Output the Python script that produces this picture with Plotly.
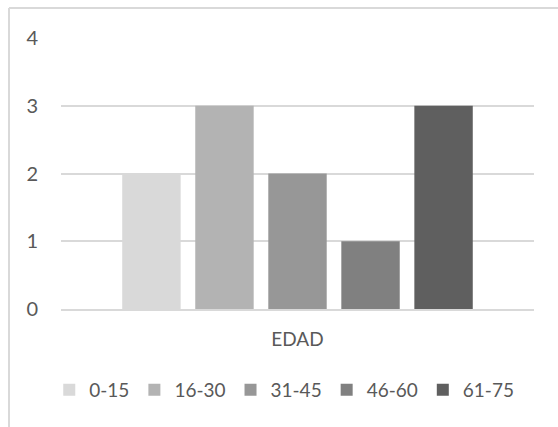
import plotly.graph_objects as go

# Age-group counts, single category
category = ["EDAD"]
groups = ["0-15", "16-30", "31-45", "46-60", "61-75"]
counts = [2, 3, 2, 1, 3]
colors = ["#d9d9d9", "#b3b3b3", "#979797", "#808080", "#5f5f5f"]
y_ticks = [0, 1, 2, 3, 4]

W, H = 558, 427
L, R, T, B = 61, 24, 38, 118
pw, ph = W - L - R, H - T - B

fig = go.Figure()
for name, val, col in zip(groups, counts, colors):
    fig.add_trace(go.Bar(x=category, y=[val], name=name, marker_color=col,
                         marker_line_width=0))

font = dict(family="Lato, Open Sans, sans-serif", size=20, color="#595959")

# chart frame (top and left edges)
fx = (9 - L) / pw
fy = (H - B - 8) / ph
fig.add_shape(type="line", xref="paper", yref="paper", x0=fx, x1=1.2, y0=fy, y1=fy,
              line=dict(color="#d9d9d9", width=2))
fig.add_shape(type="line", xref="paper", yref="paper", x0=fx, x1=fx, y0=fy, y1=-0.6,
              line=dict(color="#d9d9d9", width=2))

fig.update_layout(
    width=W, height=H,
    margin=dict(l=L, r=R, t=T, b=B),
    paper_bgcolor="white", plot_bgcolor="white",
    barmode="group", bargap=0.228, bargroupgap=0.2,
    font=font,
    showlegend=True,
    legend=dict(orientation="h", x=0.472, xanchor="center", y=-0.228, yanchor="top",
                font=dict(family=font["family"], size=19, color=font["color"]),
                itemwidth=30, traceorder="normal"),
)
fig.update_xaxes(showgrid=False, showline=True, linecolor="#d9d9d9", linewidth=1.5,
                 ticks="", tickfont=dict(family=font["family"], size=19, color=font["color"]),
                 ticklabelstandoff=12)
fig.update_yaxes(range=[0, 4], tickvals=y_ticks, showgrid=True, gridcolor="#d9d9d9",
                 gridwidth=1.5, zeroline=False, showline=False, ticks="",
                 tickfont=font, ticklabelstandoff=22)

fig.write_html("out.html")
